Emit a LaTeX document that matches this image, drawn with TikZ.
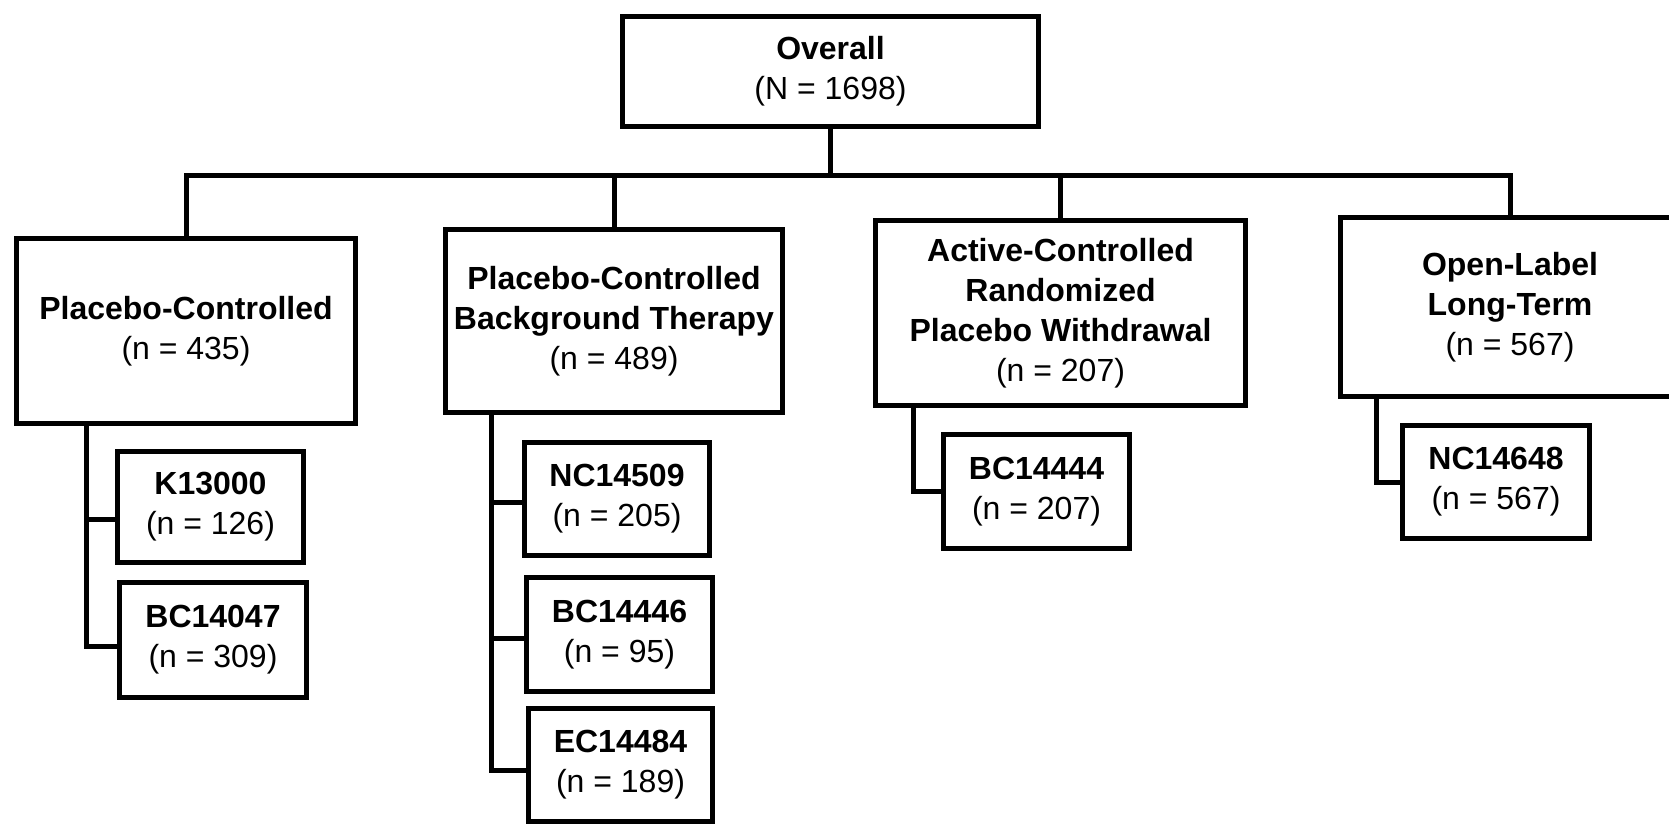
\documentclass[tikz,border=0pt]{standalone}
\usepackage{fontspec}
\setmainfont{Liberation Sans}
\begin{document}
\begin{tikzpicture}[x=0.5pt,y=-0.5pt,
  box/.style={draw, line width=2.5pt, rectangle, inner sep=0pt, align=center,
    font=\fontsize{16pt}{20pt}\selectfont},
  conn/.style={line width=2.5pt, line cap=rect}]
\useasboundingbox (0,0) rectangle (1669,825);
% top
\node[box, minimum width=208pt, minimum height=55pt] (ov) at (830.5,71.5) {\textbf{Overall}\\(N = 1698)};
% level 1
\node[box, minimum width=169.5pt, minimum height=92.5pt] (b1) at (186,331) {\textbf{Placebo-Controlled}\\(n = 435)};
\node[box, minimum width=168.5pt, minimum height=91.5pt] (b2) at (614,321) {\textbf{Placebo-Controlled}\\\textbf{Background Therapy}\\(n = 489)};
\node[box, minimum width=185pt, minimum height=92.5pt] (b3) at (1060.5,313) {\textbf{Active-Controlled}\\\textbf{Randomized}\\\textbf{Placebo Withdrawal}\\(n = 207)};
\node[box, minimum width=169.5pt, minimum height=89.5pt] (b4) at (1510,307) {\textbf{Open-Label}\\\textbf{Long-Term}\\(n = 567)};
% level 2
\node[box, minimum width=93pt, minimum height=55.5pt] (k1) at (210.5,507) {\textbf{K13000}\\(n = 126)};
\node[box, minimum width=93.5pt, minimum height=57.5pt] (k2) at (213,640) {\textbf{BC14047}\\(n = 309)};
\node[box, minimum width=92.5pt, minimum height=56.5pt] (p1) at (617,499) {\textbf{NC14509}\\(n = 205)};
\node[box, minimum width=93pt, minimum height=57pt] (p2) at (619.5,634.5) {\textbf{BC14446}\\(n = 95)};
\node[box, minimum width=92pt, minimum height=56.5pt] (p3) at (620.5,765) {\textbf{EC14484}\\(n = 189)};
\node[box, minimum width=93pt, minimum height=57pt] (a1) at (1036.5,491.5) {\textbf{BC14444}\\(n = 207)};
\node[box, minimum width=93.5pt, minimum height=56.5pt] (o1) at (1496,482) {\textbf{NC14648}\\(n = 567)};
% connector helpers
\coordinate (bus) at (0,175);
\coordinate (t1) at (86.5,0);
\coordinate (t2) at (491,0);
\coordinate (t3) at (913,0);
\coordinate (t4) at (1376,0);
% top tree
\draw[conn] (ov.south) -- (ov.south |- bus);
\draw[conn] (b1.north) -- (b1.north |- bus) -- (b4.north |- bus) -- (b4.north);
\draw[conn] (b2.north |- bus) -- (b2.north);
\draw[conn] (b3.north |- bus) -- (b3.north);
% sub trees
\draw[conn] (t1 |- b1.south) |- ([yshift=-3pt]k2.west);
\draw[conn] (t1 |- k1.west) ++(0,12) -- ([yshift=-6pt]k1.west);
\draw[conn] (t2 |- b2.south) |- ([yshift=-2.5pt]p3.west);
\draw[conn] ([yshift=-1.5pt]t2 |- p1.west) -- ([yshift=-1.5pt]p1.west);
\draw[conn] ([yshift=-1.75pt]t2 |- p2.west) -- ([yshift=-1.75pt]p2.west);
\draw[conn] (t3 |- b3.south) |- (a1.west);
\draw[conn] (t4 |- b4.south) |- (o1.west);
\end{tikzpicture}
\end{document}
